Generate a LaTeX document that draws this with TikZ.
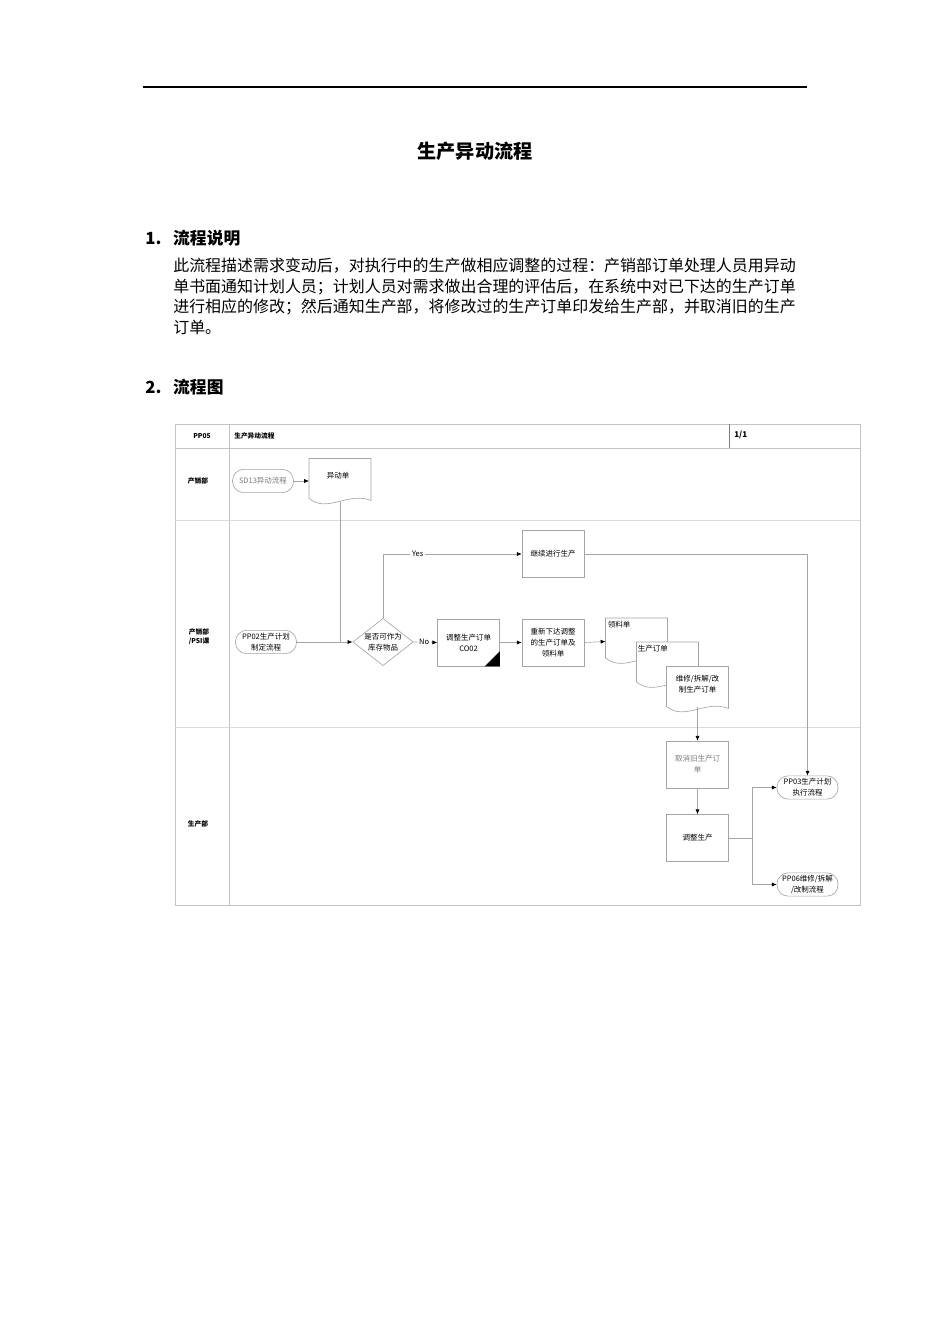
\documentclass[tikz,border=0pt]{standalone}
\usepackage{fontspec}
\setmainfont{Noto Sans CJK SC}
\usetikzlibrary{arrows.meta,calc,shapes.geometric}
\definecolor{linegray}{RGB}{165,165,165}
\definecolor{framegray}{RGB}{195,195,195}
\definecolor{textgray}{RGB}{125,125,125}
\newcommand{\dtxt}{\fontsize{4.7}{6.9}\selectfont}
% wavy document outline round a node
\newcommand{\docshape}[1]{%
  \filldraw[draw=linegray, fill=white] (#1.north west) -- (#1.north east) -- ($(#1.south east)+(0,-5)$)
    .. controls ($(#1.south west)!0.62!(#1.south east)+(0,-14)$) and ($(#1.south west)!0.3!(#1.south east)+(0,8)$) .. ($(#1.south west)+(0,-7)$) -- cycle;}
\tikzset{
  hd/.style={font=\fontsize{10.5}{12}\selectfont\bfseries, inner sep=0pt},
  bodytxt/.style={font=\fontsize{10}{12}\selectfont, inner sep=0pt, anchor=west},
  lane/.style={font=\fontsize{4.2}{5.6}\selectfont\bfseries, align=center, inner sep=0pt},
  proc/.style={draw=linegray, fill=white, minimum width=38.8pt, minimum height=29.4pt, inner sep=1pt, align=center, font=\dtxt},
  term/.style={draw=linegray, fill=white, rounded corners=7pt, minimum width=38.2pt, minimum height=14.6pt, inner sep=1pt, align=center, font=\dtxt},
  decide/.style={diamond, draw=linegray, fill=white, aspect=1.28, inner sep=0pt, minimum width=37.6pt, minimum height=29.4pt, align=center, font=\dtxt},
  docbox/.style={minimum width=38.5pt, minimum height=29pt, inner sep=0pt},
  doctxt/.style={font=\dtxt, align=center, inner sep=0pt},
  link/.style={draw=linegray, line width=0.4pt},
  flow/.style={link, -{Latex[length=3pt,width=2.6pt,color=black]}}
}
\begin{document}
\begin{tikzpicture}[x=0.6266pt,y=0.6266pt,yscale=-1]
\useasboundingbox (0,0) rectangle (950,1344);

% page head
\draw[line width=1.2pt] (143,87) -- (807,87);
\node[font=\fontsize{12}{14}\selectfont\bfseries] (title) at (475,151) {生产异动流程};

% Section 1
\node[hd, anchor=west] (sec1) at (145,238) {\makebox[17.5pt][l]{1.}流程说明};
\node[bodytxt] (par1) at (173,266) {此流程描述需求变动后，对执行中的生产做相应调整的过程：产销部订单处理人员用异动};
\node[bodytxt] (par2) at (173,287) {单书面通知计划人员；计划人员对需求做出合理的评估后，在系统中对已下达的生产订单};
\node[bodytxt] (par3) at (173,307.5) {进行相应的修改；然后通知生产部，将修改过的生产订单印发给生产部，并取消旧的生产};
\node[bodytxt] (par4) at (173,327) {订单。};

% Section 2
\node[hd, anchor=west] (sec2) at (145,387) {\makebox[17.5pt][l]{2.}流程图};

% frame of the chart
\draw[framegray] (175,424) rectangle (860,905);
\draw[framegray] (175,448) -- (860,448);
\draw[framegray] (229,424) -- (229,905);
\draw[gray] (729,424) -- (729,448);
\draw[framegray!60] (175,520) -- (860,520);
\draw[framegray!60] (175,727) -- (860,727);

% header and lane labels
\node[lane] (hcode) at (202,436) {PP05};
\node[lane, anchor=west] (hname) at (234,436) {生产异动流程};
\node[lane, anchor=west, font=\fontsize{5}{6}\selectfont\bfseries] (hpage) at (734,435) {1/1};
\node[lane] (lane1) at (198,481) {产销部};
\node[lane] (lane2) at (199,637) {产销部\\/PSI课};
\node[lane] (lane3) at (198,824) {生产部};

% lane 1
\node[term, text=textgray] (sd13) at (263,481) {SD13异动流程};
\node[docbox, minimum height=29pt] (yidong) at (340,482) {};
\docshape{yidong}
\node[doctxt] (yidongt) at (338,476) {异动单};

% lane 2
\node[term] (pp02) at (266,642) {PP02生产计划\\制定流程};
\node[decide] (pd) at (383,642) {是否可作为\\库存物品};
\node[proc] (co) at (468.5,642.5) {调整生产订单\\CO02};
\fill (co.south east) -- ++(-15,0) -- ++(15,-15) -- cycle;
\node[proc] (jx) at (553,554) {继续进行生产};
\node[proc] (cx) at (553,642.5) {重新下达调整\\的生产订单及\\领料单};

% stacked documents
\node[docbox] (lld) at (636.5,641.5) {};
\docshape{lld}
\node[doctxt, anchor=north west] (lldt) at ([shift={(2,3)}]lld.north west) {领料单};
\node[docbox] (scdd) at (667.5,665.5) {};
\docshape{scdd}
\node[doctxt, anchor=north west] (scddt) at ([shift={(1,3)}]scdd.north west) {生产订单};
\node[docbox] (wx) at (697.5,690) {};
\docshape{wx}
\node[doctxt] (wxt) at (697.5,684) {维修/拆解/改\\制生产订单};

% lane 3
\node[proc, text=textgray] (qx) at (697.5,764.5) {取消旧生产订\\单};
\node[proc] (tz) at (697.5,838) {调整生产};
\node[term] (pp03) at (807.5,787.5) {PP03生产计划\\执行流程};
\node[term] (pp06) at (807.5,884.5) {PP06维修/拆解\\/改制流程};

% connectors
\coordinate (jn) at (yidong.south |- pd.west);
\coordinate (br) at ($(tz.east)+(24,0)$);
\draw[flow] (sd13) -- (yidong.west |- sd13.east);
\draw[link] ($(yidong.south)+(0,-3)$) -- (jn);
\draw[link] (pp02) -- (jn);
\draw[flow] (jn) -- (pd.west);
\draw[flow] (pd.east) -- node[pos=0.45, fill=white, inner sep=1pt, font=\dtxt] {No} (co.west);
\draw[flow] (pd.north) |- node[pos=0.625, fill=white, inner sep=1pt, font=\dtxt] {Yes} (jx.west);
\draw[flow] (jx.east) -| (pp03.north);
\draw[flow] (co.east) -- (cx.west);
\draw[flow] (cx.east) -- (lld.west);
\draw[flow] ($(wx.south)+(0,-6)$) -- (qx.north);
\draw[flow] (qx) -- (tz);
\draw[link] (tz.east) -- (br);
\draw[flow] (br) |- (pp03.west);
\draw[flow] (br) |- (pp06.west);

\end{tikzpicture}
\end{document}
